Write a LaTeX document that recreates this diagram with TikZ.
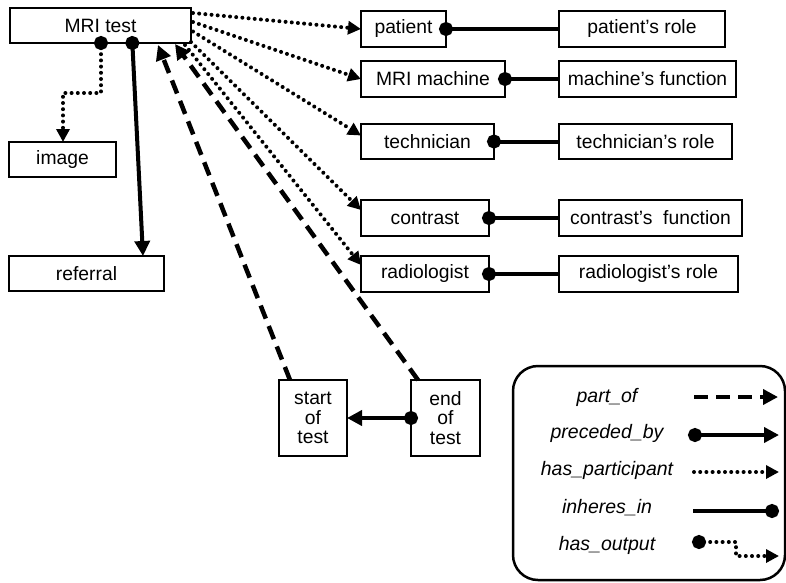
\documentclass[tikz,border=0pt]{standalone}
\usepackage{fontspec}
\setmainfont{Liberation Sans}
\usetikzlibrary{arrows.meta,calc}

\begin{document}
\begin{tikzpicture}[x=1pt,y=-1pt,
  box/.style={draw,line width=2pt,inner sep=0pt,outer sep=0pt,
    font=\fontsize{19.3}{19.5}\selectfont,align=center},
  partof/.style={line width=4.5pt,dash pattern=on 14pt off 8pt,
    -{Triangle[length=15pt,width=15pt]}},
  precededby/.style={line width=4pt,
    {Circle[length=14pt]}-{Triangle[length=15pt,width=15pt]}},
  hasparticipant/.style={line width=4pt,line cap=round,dash pattern=on 0pt off 6.2pt,
    -{Triangle[length=13pt,width=13pt]}},
  inheresin/.style={line width=4pt,-{Circle[length=14pt]}},
  hasoutput/.style={line width=4pt,line cap=round,dash pattern=on 0pt off 6.2pt,
    {Circle[length=14pt]}-{Triangle[length=13pt,width=13pt]}},
  legtext/.style={font=\fontsize{19.5}{19.5}\selectfont\itshape}]

\useasboundingbox (0,0) rectangle (786,582);

% process and its parts
\node[box,minimum width=181pt,minimum height=35pt] (mri) at (100.5,25.5) {MRI test};
\node[box,minimum width=107pt,minimum height=35pt] (image) at (62.5,159.5) {image};
\node[box,minimum width=155pt,minimum height=35pt] (referral) at (86.5,273.5) {referral};
\node[box,minimum width=68pt,minimum height=76pt] (start) at (313,418) {start\\of\\test};
\node[box,minimum width=69pt,minimum height=76pt] (endt) at (445.5,418) {end\\of\\test};

% participants
\node[box,minimum width=85pt,minimum height=36pt] (patient) at (403.5,29) {patient};
\node[box,minimum width=144pt,minimum height=36pt] (machine) at (433,79) {MRI machine};
\node[box,minimum width=133pt,minimum height=35pt] (tech) at (427.5,141.5) {technician};
\node[box,minimum width=128pt,minimum height=36pt] (contrast) at (425,218) {contrast};
\node[box,minimum width=128pt,minimum height=36pt] (radio) at (425,274) {radiologist};

% roles and functions
\node[box,minimum width=166pt,minimum height=36pt] (prole) at (642,29) {patient’s role};
\node[box,minimum width=177pt,minimum height=36pt] (mfunc) at (647.5,79) {machine’s function};
\node[box,minimum width=173pt,minimum height=35pt] (trole) at (645.5,141.5) {technician’s role};
\node[box,minimum width=183pt,minimum height=36pt] (cfunc) at (650.5,218) {contrast’s\ \ function};
\node[box,minimum width=179pt,minimum height=36pt] (rrole) at (648.5,274) {radiologist’s role};

% has_output and preceded_by from the test
\draw[hasoutput] ($(mri.south west)+(91,-7)$) -- ++(0,57) -| ($(image.north west)+(54,0)$);
\draw[precededby] ($(mri.south west)+(122,-7)$) -- ($(referral.north west)+(134,0)$);

% has_participant
\draw[hasparticipant] ($(mri.north east)+(2,5)$) -- (patient.west);
\draw[hasparticipant] ($(mri.north east)+(2,14)$) -- (machine.west);
\draw[hasparticipant] ($(mri.east)+(2,6)$) -- ($(tech.west)+(0,-6)$);
\draw[hasparticipant] ($(mri.south east)+(0,-1)$) -- ($(contrast.west)+(0,-8)$);
\draw[hasparticipant] ($(mri.south east)+(-6,2)$) -- ($(radio.west)+(0,-9)$);

% part_of
\draw[partof] ($(start.north west)+(11,0)$) -- ($(mri.south west)+(148,2)$);
\draw[partof] ($(endt.north west)+(7,0)$) -- ($(mri.south west)+(165,1)$);

% end preceded_by start
\draw[precededby] ($(endt.west)+(7,0)$) -- (start.east);

% inheres_in
\draw[inheresin] (prole.west) -- ($(patient.east)+(-7,0)$);
\draw[inheresin] (mfunc.west) -- ($(machine.east)+(-7,0)$);
\draw[inheresin] (trole.west) -- ($(tech.east)+(-7,0)$);
\draw[inheresin] (cfunc.west) -- ($(contrast.east)+(-7,0)$);
\draw[inheresin] (rrole.west) -- ($(radio.east)+(-7,0)$);

% key
\draw[line width=2.5pt,rounded corners=25pt] (513,366) rectangle (785,580);
\node[legtext] (lpart) at (607,397) {part\_of};
\node[legtext] (lprec) at (607,433) {preceded\_by};
\node[legtext] (lpart2) at (607,470) {has\_participant};
\node[legtext] (linh) at (607,508) {inheres\_in};
\node[legtext] (lout) at (607,545) {has\_output};

\coordinate (k1a) at (694,397);  \coordinate (k1b) at (778,397);
\coordinate (k2a) at (688,435);  \coordinate (k2b) at (779,435);
\coordinate (k3a) at (694,472);  \coordinate (k3b) at (779,472);
\coordinate (k4a) at (693,511);  \coordinate (k4b) at (779,511);
\coordinate (k5a) at (692,542);  \coordinate (k5b) at (779,556);

\draw[partof] (k1a) -- (k1b);
\draw[precededby] (k2a) -- (k2b);
\draw[hasparticipant] (k3a) -- (k3b);
\draw[inheresin] (k4a) -- (k4b);
\draw[hasoutput] (k5a) -- ++(44,0) |- (k5b);
\end{tikzpicture}
\end{document}
